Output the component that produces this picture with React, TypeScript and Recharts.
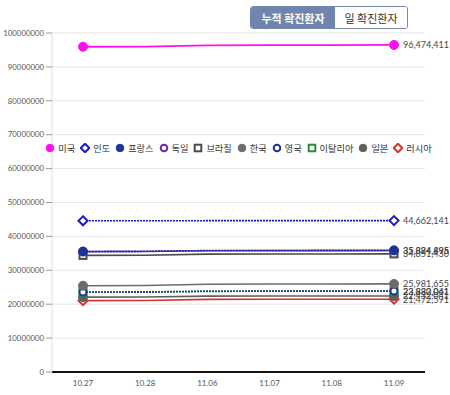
import React from 'react';
import { LineChart, Line, XAxis, YAxis, CartesianGrid, LabelList } from 'recharts';

const dates = ['10.27', '10.28', '11.06', '11.07', '11.08', '11.09'];
const countries = ['미국', '인도', '프랑스', '독일', '브라질', '한국', '영국', '이탈리아', '일본', '러시아'];
const us = [95950000, 96000000, 96350000, 96400000, 96440000, 96474411];
const india = [44600000, 44610000, 44640000, 44650000, 44656000, 44662141];
const france = [35550000, 35600000, 35820000, 35850000, 35870000, 35884895];
const germany = [35500000, 35550000, 35780000, 35800000, 35815000, 35824495];
const brazil = [34400000, 34450000, 34780000, 34810000, 34830000, 34851430];
const korea = [25450000, 25500000, 25900000, 25940000, 25965000, 25981655];
const uk = [23600000, 23630000, 23830000, 23850000, 23870000, 23880041];
const italy = [23500000, 23530000, 23790000, 23810000, 23820000, 23832061];
const japan = [22100000, 22130000, 22380000, 22400000, 22420000, 22432041];
const russia = [21050000, 21080000, 21420000, 21440000, 21460000, 21472591];
const yTicks = [0, 10000000, 20000000, 30000000, 40000000, 50000000, 60000000, 70000000, 80000000, 90000000, 100000000];

const seriesValues = [us, india, france, germany, brazil, korea, uk, italy, japan, russia];

type Shape = 'circle' | 'hollowCircle' | 'diamond' | 'square';
const styles: { color: string; shape: Shape; dash?: string }[] = [
  { color: '#ff11ee', shape: 'circle' },
  { color: '#1a1acc', shape: 'diamond', dash: '2 1' },
  { color: '#1a3596', shape: 'circle', dash: '2 1' },
  { color: '#6a22b8', shape: 'hollowCircle' },
  { color: '#4a4a4a', shape: 'square' },
  { color: '#6b6b6b', shape: 'circle' },
  { color: '#1a3596', shape: 'hollowCircle', dash: '2 1' },
  { color: '#2a8a3a', shape: 'square', dash: '2 1' },
  { color: '#5f5f5f', shape: 'circle' },
  { color: '#d93030', shape: 'diamond' },
];

const data = dates.map((d, i) => {
  const row: Record<string, string | number> = { date: d };
  countries.forEach((c, k) => {
    row[c] = seriesValues[k][i];
  });
  return row;
});

const fmt = (v: number) => v.toLocaleString('en-US');

function Marker({ shape, color, cx, cy, s = 4 }: { shape: Shape; color: string; cx: number; cy: number; s?: number }) {
  if (shape === 'circle') return <circle cx={cx} cy={cy} r={s} fill={color} stroke={color} strokeWidth={1} />;
  if (shape === 'hollowCircle') return <circle cx={cx} cy={cy} r={s - 0.5} fill="#fff" stroke={color} strokeWidth={2} />;
  if (shape === 'diamond') {
    const d = s + 0.5;
    return <path d={`M${cx},${cy - d}L${cx + d},${cy}L${cx},${cy + d}L${cx - d},${cy}Z`} fill="#fff" stroke={color} strokeWidth={2} />;
  }
  return <rect x={cx - s + 0.5} y={cy - s + 0.5} width={2 * s - 1} height={2 * s - 1} fill="#fff" stroke={color} strokeWidth={2} />;
}

const makeDot = (k: number) => (props: any) => {
  const { cx, cy, index } = props;
  if (index !== 0 && index !== dates.length - 1) return <g key={`d${k}-${index}`} />;
  return (
    <g key={`d${k}-${index}`}>
      <Marker shape={styles[k].shape} color={styles[k].color} cx={cx} cy={cy} s={k === 0 || k === 2 || k === 5 || k === 8 ? 4.5 : 4} />
    </g>
  );
};

const makeLabel = () => (props: any) => {
  const { x, y, value, index } = props;
  if (index !== dates.length - 1) return null;
  return (
    <text x={x + 9} y={y} dy={3.5} fontSize={9} fill="#444" fontFamily="Lato">
      {fmt(value)}
    </text>
  );
};

const LegendBox = () => (
  <div
    style={{
      position: 'absolute',
      left: 52,
      top: 141,
      width: 373,
      height: 14,
      display: 'flex',
      justifyContent: 'center',
      alignItems: 'center',
      fontFamily: 'Lato, "Noto Sans CJK KR"',
      fontSize: 9.2,
      color: '#333',
      whiteSpace: 'nowrap',
      zIndex: 2,
    }}
  >
    {countries.map((c, k) => (
      <span key={c} style={{ display: 'inline-flex', alignItems: 'center', marginLeft: k === 0 ? 0 : 5 }}>
        <svg width={10} height={10} style={{ marginRight: 3 }}>
          <Marker shape={styles[k].shape} color={styles[k].color} cx={5} cy={5} s={3.8} />
        </svg>
        {c}
      </span>
    ))}
  </div>
);

const drawOrder = countries.map((_, k) => k).reverse();

export default function App() {
  return (
    <div style={{ position: 'absolute', left: 0, top: 0, width: 450, height: 395, background: '#fff' }}>
      <div
        style={{
          position: 'absolute',
          left: 250,
          top: 6,
          width: 158,
          height: 23,
          display: 'flex',
          border: '1px solid #7489b0',
          borderRadius: 3,
          overflow: 'hidden',
          boxSizing: 'border-box',
          fontFamily: '"Noto Sans CJK KR", "Noto Sans"',
          fontSize: 11,
          zIndex: 2,
        }}
      >
        <div style={{ width: 84, background: '#6f85ad', color: '#fff', fontWeight: 700, display: 'flex', alignItems: 'center', justifyContent: 'center' }}>
          누적 확진환자
        </div>
        <div style={{ flex: 1, background: '#fff', color: '#333', display: 'flex', alignItems: 'center', justifyContent: 'center' }}>
          일 확진환자
        </div>
      </div>
      <LegendBox />
      <LineChart width={450} height={395} data={data} margin={{ top: 33, right: 25, bottom: 0, left: 0 }}>
        <CartesianGrid vertical={false} stroke="#e6e6e6" />
        <XAxis
          dataKey="date"
          padding={{ left: 31, right: 31 }}
          axisLine={{ stroke: '#111', strokeWidth: 2 }}
          tickLine={false}
          height={23}
          tick={{ fontSize: 8, fill: '#555', fontFamily: 'Lato' }}
          interval={0}
        />
        <YAxis
          width={52}
          domain={[0, 100000000]}
          ticks={yTicks}
          tickFormatter={(v: number) => String(v)}
          axisLine={{ stroke: '#dcdcdc' }}
          tickLine={{ stroke: '#999' }}
          tick={{ fontSize: 7.8, fill: '#555', fontFamily: 'Lato' }}
          interval={0}
        />
        {drawOrder.map((k) => {
          const c = countries[k];
          return (
            <Line
              key={c}
              dataKey={c}
              name={c}
              stroke={styles[k].color}
              strokeWidth={k === 0 ? 1.8 : 1.6}
              strokeDasharray={styles[k].dash}
              dot={makeDot(k)}
              activeDot={false}
              isAnimationActive={false}
              type="linear"
            >
              <LabelList dataKey={c} content={makeLabel()} />
            </Line>
          );
        })}
      </LineChart>
    </div>
  );
}
